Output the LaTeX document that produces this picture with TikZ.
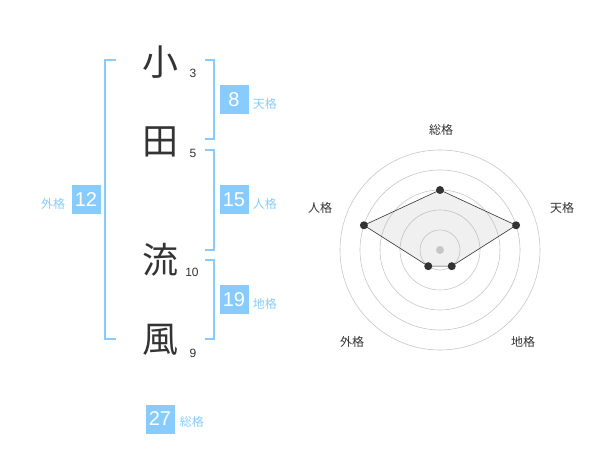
\documentclass[tikz,border=0pt]{standalone}
\usepackage{fontspec}
\setmainfont{Liberation Sans}
\newfontfamily\jpfont{Noto Sans CJK JP}
\usetikzlibrary{positioning}
\definecolor{kakublue}{HTML}{88CCFF}
\definecolor{inkgray}{HTML}{333333}
\tikzset{
  kanji/.style={font=\jpfont\fontsize{36}{36}\selectfont, text=inkgray, inner sep=0pt},
  strokes/.style={font=\fontsize{12}{12}\selectfont, text=inkgray, inner sep=0pt},
  kakubox/.style={fill=kakublue, text=white, minimum size=29pt, inner sep=0pt,
    font=\fontsize{20}{20}\selectfont},
  kakuname/.style={font=\jpfont\fontsize{12}{12}\selectfont, text=kakublue, inner sep=0pt},
  bracket/.style={draw=kakublue, line width=2pt},
  ring/.style={draw=black!22, line width=0.6pt},
  axisname/.style={font=\jpfont\fontsize{12}{12}\selectfont, text=inkgray, inner sep=0pt},
  datadot/.style={circle, fill=inkgray, inner sep=0pt, minimum size=8pt}
}
\begin{document}
\begin{tikzpicture}[x=1pt, y=-1pt]
  \useasboundingbox (0,0) rectangle (600,470);

  % Name characters and stroke counts
  \node[kanji] (ko) at (160,62) {小};
  \node[kanji] (ta) at (160,142) {田};
  \node[kanji] (ryu) at (160,260) {流};
  \node[kanji] (fu) at (160,340) {風};
  \node[strokes] (s1) at (193,73) {3};
  \node[strokes] (s2) at (193,153) {5};
  \node[strokes] (s3) at (192,272) {10};
  \node[strokes] (s4) at (193,353) {9};

  % Brackets
  \draw[bracket] (116,60) -| (105,339) -- (116,339);
  \draw[bracket] (205,60) -| (214,139) -- (205,139);
  \draw[bracket] (205,150) -| (214,250) -- (205,250);
  \draw[bracket] (205,260) -| (214,339) -- (205,339);

  % Scores
  \node[kakubox] (ten) at (234,100) {8};
  \node[kakubox] (jin) at (234,200) {15};
  \node[kakubox] (chi) at (234,300) {19};
  \node[kakubox] (gai) at (86,200) {12};
  \node[kakubox] (so) at (160,419) {27};
  \node[kakuname, right=4pt of ten, yshift=-4pt] (tenname) {天格};
  \node[kakuname, right=4pt of jin, yshift=-4pt] (jinname) {人格};
  \node[kakuname, right=4pt of chi, yshift=-4pt] (chiname) {地格};
  \node[kakuname, left=6pt of gai, yshift=-4pt] (gainame) {外格};
  \node[kakuname, right=5pt of so, yshift=-3pt] (soname) {総格};

  % Radar chart
  \begin{scope}[shift={(440,250)}]
    \foreach \r in {20,40,60,80,100}
      \draw[ring] (0,0) circle[radius=\r pt];
    \fill[black!20] (0,0) circle[radius=4pt];
    \coordinate (vso) at (90:60pt);
    \coordinate (vten) at (18:80pt);
    \coordinate (vchi) at (-54:20pt);
    \coordinate (vgai) at (-126:20pt);
    \coordinate (vjin) at (162:80pt);
    \draw[fill=black!30, fill opacity=0.2, draw=inkgray, line width=0.6pt]
      (vso) -- (vten) -- (vchi) -- (vgai) -- (vjin) -- cycle;
    \foreach \v in {vso,vten,vchi,vgai,vjin}
      \node[datadot] at (\v) {};
  \end{scope}
  \node[axisname] (axso) at (441,130) {総格};
  \node[axisname] (axten) at (562,208) {天格};
  \node[axisname] (axjin) at (320,208) {人格};
  \node[axisname] (axgai) at (352,342) {外格};
  \node[axisname] (axchi) at (523,342) {地格};
\end{tikzpicture}
\end{document}
